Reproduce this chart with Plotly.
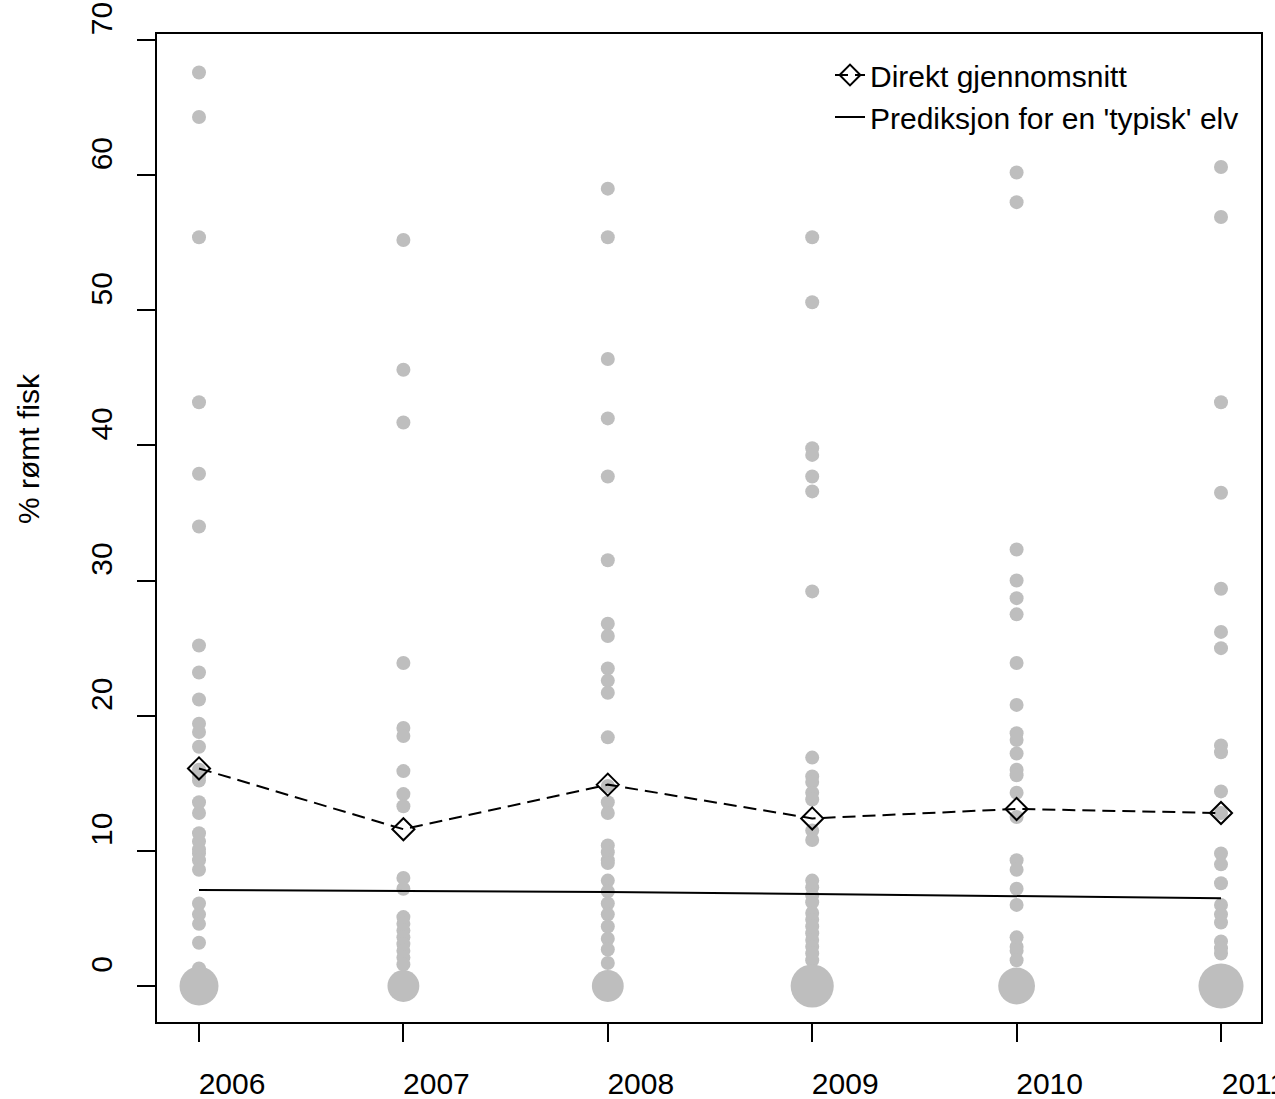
import plotly.graph_objects as go

# ---------------- data ----------------
years = [2006, 2007, 2008, 2009, 2010, 2011]

pct_2006 = [67.6, 64.3, 55.4, 43.2, 37.9, 34.0, 25.2, 23.2, 21.2, 19.4, 18.8, 17.7,
            16.0, 15.5, 15.2, 13.6, 12.8, 11.3, 10.7, 10.1, 9.8, 9.3, 8.6, 6.1, 5.3,
            4.6, 3.2, 1.3]
pct_2007 = [55.2, 45.6, 41.7, 23.9, 19.1, 18.5, 15.9, 14.2, 13.3, 8.0, 7.2, 5.1,
            4.6, 4.1, 3.6, 3.1, 2.6, 2.1, 1.6]
pct_2008 = [59.0, 55.4, 46.4, 42.0, 37.7, 31.5, 26.8, 25.9, 23.5, 22.6, 21.7, 18.4,
            14.8, 13.6, 12.8, 10.4, 9.9, 9.3, 9.1, 7.8, 7.0, 6.1, 5.3, 4.4, 3.5,
            2.7, 1.7]
pct_2009 = [55.4, 50.6, 39.8, 39.3, 37.7, 36.6, 29.2, 16.9, 15.5, 15.1, 14.3, 13.8,
            11.5, 10.8, 7.8, 7.3, 6.7, 6.2, 5.4, 4.9, 4.4, 3.9, 3.4, 2.9, 2.4, 1.9]
pct_2010 = [60.2, 58.0, 32.3, 30.0, 28.7, 27.5, 23.9, 20.8, 18.7, 18.2, 17.2, 16.0,
            15.6, 14.3, 12.5, 9.3, 8.6, 7.2, 6.0, 3.6, 2.9, 2.6, 1.9]
pct_2011 = [60.6, 56.9, 43.2, 36.5, 29.4, 26.2, 25.0, 17.8, 17.3, 14.4, 12.8, 9.8,
            9.0, 7.6, 6.0, 5.3, 4.7, 3.3, 2.8, 2.4]

# number of rivers with 0 % escaped fish per year (drawn as one bubble)
zero_count = [9, 6, 6, 11, 8, 12]

direct_mean = [16.1, 11.6, 14.9, 12.4, 13.1, 12.8]
prediction = [7.1, 7.05, 6.95, 6.8, 6.65, 6.5]

y_ticks = [0, 10, 20, 30, 40, 50, 60, 70]
y_title = "% rømt fisk"
legend_names = ["Direkt gjennomsnitt", "Prediksjon for en 'typisk' elv"]

# ---------------- figure ----------------
GRAY = "#BEBEBE"
FONT = "Liberation Sans, Arial, sans-serif"

all_vals = [pct_2006, pct_2007, pct_2008, pct_2009, pct_2010, pct_2011]
px_x, px_y = [], []
for yr, vals in zip(years, all_vals):
    px_x += [yr] * len(vals)
    px_y += vals

fig = go.Figure()

fig.add_trace(go.Scatter(
    x=px_x, y=px_y, mode="markers",
    marker=dict(color=GRAY, size=14, opacity=1, line=dict(width=0)),
    showlegend=False, hoverinfo="x+y"))

fig.add_trace(go.Scatter(
    x=years, y=[0] * len(years), mode="markers",
    marker=dict(color=GRAY, opacity=1, size=[13 * c ** 0.5 for c in zero_count],
                line=dict(width=0)),
    showlegend=False))

fig.add_trace(go.Scatter(
    x=years, y=direct_mean, mode="lines+markers", name=legend_names[0],
    line=dict(color="black", width=2, dash="13px,7px"),
    marker=dict(symbol="diamond-open", size=17, color="black", opacity=1,
                line=dict(width=2))))

fig.add_trace(go.Scatter(
    x=years, y=prediction, mode="lines", name=legend_names[1],
    line=dict(color="black", width=2)))

fig.add_annotation(
    text=y_title, xref="paper", yref="paper", x=(28 - 157) / 1104, y=(1022 - 449) / 988,
    xanchor="center", yanchor="middle",
    textangle=-90, showarrow=False, font=dict(size=30, color="black", family=FONT))

axis_common = dict(
    showgrid=False, zeroline=False, showline=True, mirror=True,
    linecolor="black", linewidth=2, ticks="outside", ticklen=18, tickwidth=2,
    tickcolor="black", tickfont=dict(size=30, color="black", family=FONT),
    automargin=False, ticklabeloverflow="allow")

fig.update_xaxes(range=[2005.7945, 2011.1957], tickvals=years,
                 ticktext=[str(y) for y in years], ticklabelshift=33,
                 ticklabelstandoff=16, **axis_common)
fig.update_yaxes(range=[-2.664, 70.444], tickvals=y_ticks, tickangle=-90,
                 ticklabelshift=-17, ticklabelstandoff=13, **axis_common)

fig.update_layout(
    width=1275, height=1099,
    margin=dict(l=157, r=14, t=34, b=77),
    paper_bgcolor="white", plot_bgcolor="white",
    font=dict(family=FONT, size=30, color="black"),
    legend=dict(x=(830 - 157) / 1104, y=(1022 - 49) / 988, xanchor="left", yanchor="top",
                bgcolor="rgba(0,0,0,0)", borderwidth=0,
                font=dict(size=30, family=FONT, color="black"), tracegroupgap=0),
    showlegend=True,
)

fig.write_html("out.html", config={"displayModeBar": False},
               post_script="document.body.style.margin='0';document.body.style.overflow='hidden';")
